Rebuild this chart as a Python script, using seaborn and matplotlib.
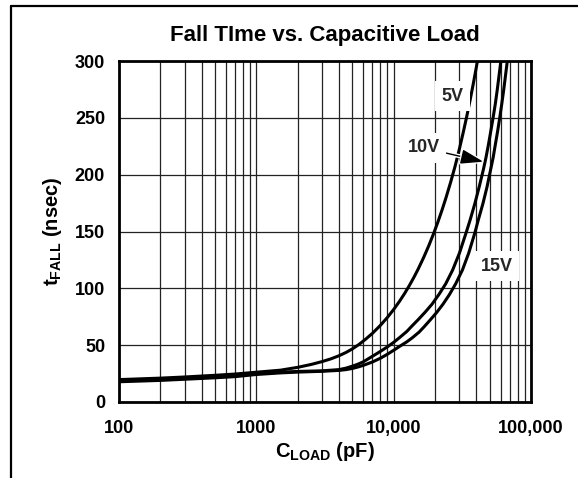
import numpy as np
import pandas as pd
import seaborn as sns
import matplotlib
matplotlib.use("Agg")
import matplotlib.pyplot as plt
import matplotlib.patheffects as pe
from matplotlib.lines import Line2D
from matplotlib.ticker import FixedLocator, FixedFormatter, NullFormatter

# curvas: C_LOAD (pF) -> t_FALL (ns)
c_5v = [100, 200, 300, 500, 700, 1000, 1500, 2000, 2500, 3000,
        3500, 4000, 4500, 5000, 5600, 6300, 7000, 8000, 9000, 10000,
        11000, 12000, 13000, 14000, 15000, 16500, 18000, 19500, 21000, 22500,
        24000, 26000, 28000, 30000, 32000, 34000, 36000, 38000, 40000, 42000, 44000]
t_5v = [19.7, 21, 22, 23.5, 24.6, 26.2, 28, 30.5, 33, 35.5,
        38, 40.7, 43.6, 46.7, 50.7, 55.6, 60.4, 67.4, 74.4, 81.4,
        88.4, 95.4, 102.4, 109.4, 116.4, 126.9, 137.4, 147.9, 158.4, 168.9,
        179.4, 193.4, 207.4, 221.9, 236.4, 250.9, 265.4, 280, 294.6, 309.2, 323.8]

c_10v = [100, 200, 300, 500, 700, 1000, 1500, 2000, 3000, 4000,
         4500, 5000, 5500, 6000, 7000, 8000, 9000, 10000, 11000, 12450,
         13500, 15100, 16940, 19010, 21330, 23930, 26850, 30130, 33810, 36000,
         39000, 42000, 45000, 47000, 49000, 51000, 53200, 55000, 56700, 58500,
         60400, 62000, 64000]
t_10v = [18.7, 20, 21, 22.3, 23.3, 25, 26.2, 26.9, 27.4, 28.5,
         29.8, 31.5, 33.3, 35.3, 40.2, 44.5, 48.5, 52.5, 56.5, 62,
         66.5, 72.5, 79, 86, 94.5, 104, 116, 131, 149.5, 160,
         174.5, 189.5, 204.5, 215, 226.5, 238.5, 251.5, 262.5, 274, 287,
         300.5, 313, 328]

c_15v = [100, 200, 300, 500, 700, 1000, 1500, 2000, 3000, 4000,
         4500, 5000, 5500, 6000, 7000, 8000, 9000, 10000, 11000, 12420,
         13670, 15320, 16610, 18400, 20480, 22850, 25460, 28280, 31640, 35190,
         39160, 41290, 44650, 47890, 50830, 53000, 55000, 57200, 59440, 61300,
         63190, 65180, 67300, 69080, 71310]
t_15v = [17.8, 19, 20, 21.3, 22.3, 24.2, 25.6, 26.3, 27, 27.8,
         28.5, 29.5, 30.8, 32.2, 35.2, 38.5, 42, 45.5, 48.8, 52.8,
         56.5, 61.5, 66, 72, 78.5, 86, 94.5, 104, 116, 131,
         149.5, 160, 174.5, 189.5, 204.5, 215, 226.5, 238.5, 251.5, 262.5,
         274, 287, 300.5, 313, 328]

x_ticks = [100, 1000, 10000, 100000]
x_labels = ["100", "1000", "10,000", "100,000"]
y_ticks = [0, 50, 100, 150, 200, 250, 300]

df = pd.concat([
    pd.DataFrame({"c": c_5v, "t": t_5v, "vdd": "5V"}),
    pd.DataFrame({"c": c_10v, "t": t_10v, "vdd": "10V"}),
    pd.DataFrame({"c": c_15v, "t": t_15v, "vdd": "15V"}),
])

sns.set_theme(style="white")
plt.rcParams["font.family"] = ["Liberation Sans", "DejaVu Sans"]
plt.rcParams["mathtext.fontset"] = "custom"
plt.rcParams["mathtext.bf"] = "Liberation Sans:bold"
plt.rcParams["mathtext.rm"] = "Liberation Sans:bold"

fig = plt.figure(figsize=(5.78, 4.78), dpi=100)
ax = fig.add_axes([119 / 578, 1 - 402 / 478, 412 / 578, 341 / 478])

sns.lineplot(data=df, x="c", y="t", hue="vdd", units="vdd", estimator=None,
             palette=["black", "black", "black"], linewidth=2.2, legend=False,
             sort=False, ax=ax, zorder=3)

ax.set_xscale("log")
ax.set_xlim(100, 100000)
ax.set_ylim(0, 300)
ax.xaxis.set_major_locator(FixedLocator(x_ticks))
ax.xaxis.set_major_formatter(FixedFormatter(x_labels))
minors = [m * 10 ** e for e in range(2, 5) for m in range(2, 10)]
ax.xaxis.set_minor_locator(FixedLocator(minors))
ax.xaxis.set_minor_formatter(NullFormatter())
ax.set_yticks(y_ticks)
ax.grid(which="both", axis="both", color="#222222", linewidth=0.9)
ax.set_axisbelow(True)
for s in ax.spines.values():
    s.set_linewidth(2)
    s.set_color("black")
ax.tick_params(which="both", length=0)
ax.tick_params(axis="x", pad=13, labelsize=13)
ax.tick_params(axis="y", pad=10, labelsize=13)
for lab in ax.get_xticklabels() + ax.get_yticklabels():
    lab.set_fontweight("bold")
    lab.set_color("black")

ax.set_xlabel(r"$\mathbf{C_{LOAD}}$ (pF)", fontsize=14.5, fontweight="bold", color="black")
ax.set_ylabel(r"$\mathbf{t_{FALL}}$ (nsec)", fontsize=14.5, fontweight="bold", color="black")
ax.xaxis.set_label_coords(0.5, -0.112)
ax.yaxis.set_label_coords(-0.134, 0.5)

fig.text(325 / 578, 1 - 36 / 478, "Fall TIme vs. Capacitive Load", ha="center", va="center",
         fontsize=16, fontweight="bold", color="black")

box = dict(facecolor="white", edgecolor="none", boxstyle="square,pad=0.35")
ax.text(26900, 269, "5V", ha="center", va="center", fontsize=13, fontweight="bold", bbox=box, zorder=4)
ax.text(56200, 119.6, "15V", ha="center", va="center", fontsize=13, fontweight="bold", bbox=box, zorder=4)
ann = ax.annotate("10V", xy=(45000, 211.4), xytext=(16640, 223.5), ha="center", va="center",
                  fontsize=13, fontweight="bold", bbox=box, zorder=5,
                  arrowprops=dict(arrowstyle="-|>,head_length=1.4,head_width=0.45",
                                  mutation_scale=10, lw=1, color="black",
                                  shrinkA=0, shrinkB=0))
ann.arrow_patch.set_path_effects([pe.Stroke(linewidth=3, foreground="white"), pe.Normal()])

# marco exterior (solo izquierda y arriba)
fig.add_artist(Line2D([11 / 578, 11 / 578], [0, 1 - 6 / 478], transform=fig.transFigure,
                      color="black", linewidth=1.6))
fig.add_artist(Line2D([11 / 578, 1], [1 - 6 / 478, 1 - 6 / 478], transform=fig.transFigure,
                      color="black", linewidth=1.6))

fig.savefig("out.png", dpi=100)
